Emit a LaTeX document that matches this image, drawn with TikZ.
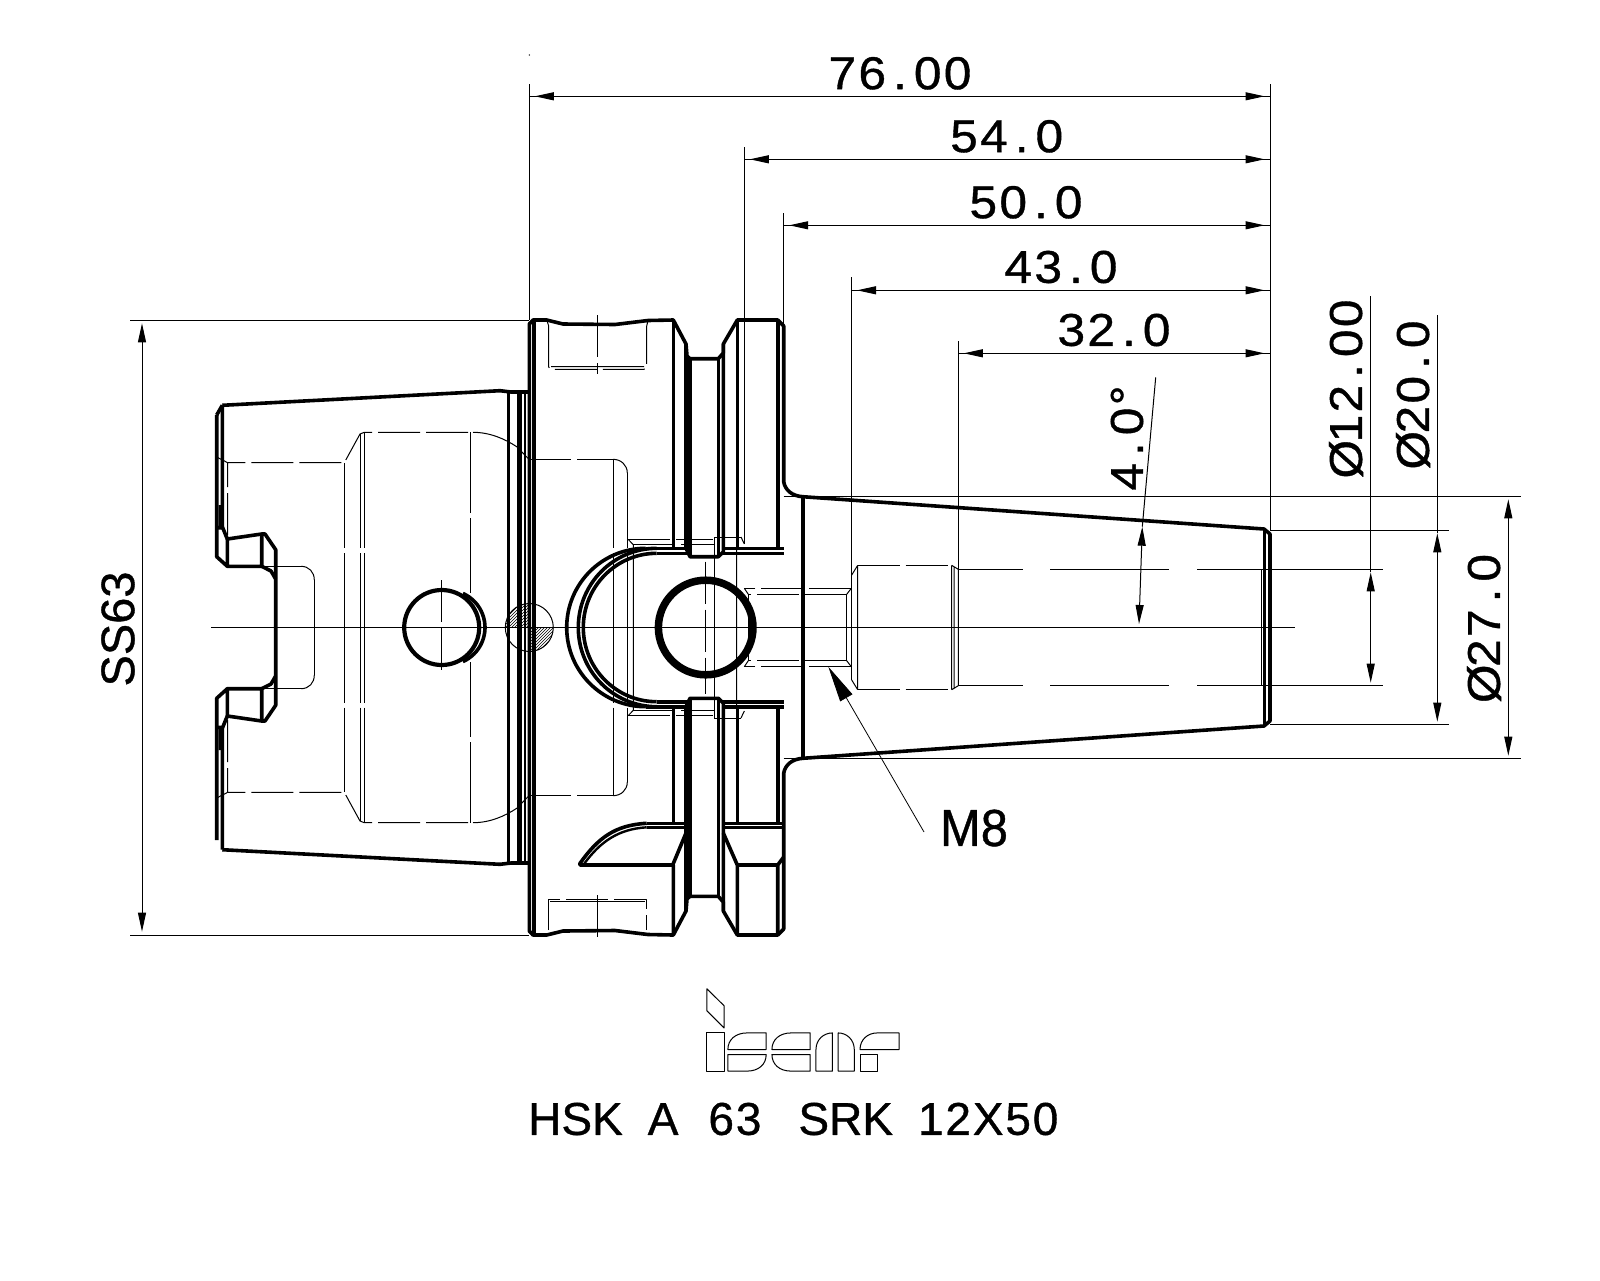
\documentclass[tikz,border=0pt]{standalone}
\usepackage{fontspec}
\usetikzlibrary{arrows.meta,patterns}
\newfontfamily\dimfont[LetterSpace=5,FakeStretch=1.08,FakeBold=0.8]{Liberation Sans}
\newfontfamily\midfont[LetterSpace=4,FakeBold=0.8]{Liberation Sans}
\newfontfamily\plainfont[FakeBold=0.8]{Liberation Sans}
\def\dt{\kern7pt.\kern7pt}
\def\dia{Ø\kern-2.5pt}
\tikzset{
	outl/.style={line width=3.6pt,line join=round},
	thinl/.style={line width=1pt},
	hidl/.style={line width=1pt,dash pattern=on 42pt off 6pt},
	hidv/.style={line width=1pt,dash pattern=on 75pt off 5pt on 300pt off 5pt},
	dimtxt/.style={font=\dimfont\fontsize{46}{46}\selectfont,inner sep=0pt},
	plaintxt/.style={font=\plainfont\fontsize{46}{46}\selectfont,inner sep=0pt},
	dimarr/.style={line width=1pt,{Triangle[length=19pt,width=8pt]}-{Triangle[length=19pt,width=8pt]}},
	halfbody/.pic={
		%%%%%%%%%Cone of the shank
		\draw[outl](222.3,405.3)--(500,390.7)--(511,392)--(529.3,392);
		\draw[outl](222.3,405.3)--(222.3,526.7)--(227.3,539)--(261.7,534)--(265,534)--(275.7,549.7)--(275.7,627.5);
		\draw[outl](216.7,415)--(216.7,556.7)--(227.3,566.3)--(261.7,566.3)--(261.7,534)(227.3,539)--(227.3,566.3);
		\draw[outl](216.7,527.7)--(222.3,527.7)(220.3,505)--(220.3,527.7)(261.7,566.3)--(271,571)--(275.7,579);
		\draw[outl](508.3,391)--(508.3,627.5);
		\draw[line width=4.8pt](519.3,392)--(519.3,627.5);
		\draw[line width=2.2pt](525,392)--(525,627.5);
		%%%%%%%%%Flange
		\draw[outl](529.3,627.5)--(529.3,324)--(533,320)--(546.7,320)--(563,324)--(615,324.5)--(648,320.5)--(673.3,320)--(686,344)--(687,356)--(690,358.7)--(718.3,358.7)--(723.3,353)--(723.3,344)--(737.3,320)--(777.7,320)--(783.7,326)--(783.7,481.7)..controls(785,490)and(792,496)..(802.7,496.7)--(1264,529)--(1270,534)--(1270,627.5);
		\draw[outl](534,320)--(534,627.5)(802.7,496.7)--(802.7,627.5)(1264.3,529)--(1264.3,627.5);
		\draw[outl](686,344)--(686,548.3)--(690,556.7)--(718.3,556.7)--(723.3,552)--(723.3,344);
		\draw[outl](690,358.7)--(690,556.7)(718.3,358.7)--(718.3,556.7);
		\draw[outl](646,548.3)--(686,548.3)(656.7,553.3)--(690,553.3)(723.3,548.3)--(783.7,548.3)(723.3,553.3)--(783.7,553.3);
		\draw[outl](566.7,627.5)arc(180:270:79 and 79.2);
		\draw[outl](578.3,627.5)arc(180:270:78.4 and 79.2);
		\draw[outl](583.3,627.5)arc(180:270:73.4 and 74.2);
		%%%%%%%%%Hidden bore
		\draw[hidl](227.7,535)--(227.7,462.7)--(344.3,462.7)--(360,434)--(364.3,432.3)--(473,432.3);
		\draw[thinl](473,432.3)..controls(490,432.3)and(505,439)..(516.7,446.7)--(529,459.3);
		\draw[hidl](529,459.3)--(613,459.3);
		\draw[thinl](613,459.3)..controls(621,459.3)and(627.3,465)..(627.3,473);
		\draw[hidv](627.3,627.5)--(627.3,473);
		\draw[thinl](216.7,457)--(227.7,462.7);
		\draw[hidv](344.3,627.5)--(344.3,462.7);
		\draw[hidv](360,627.5)--(360,434);
		\draw[hidv](364.3,627.5)--(364.3,432.3);
		\draw[hidv](470.3,593)--(470.3,432.3);
		\draw[hidv](613,627.5)--(613,459.3);
		\draw[hidl](262,566.3)--(301,566.3);
		\draw[thinl](301,566.3)..controls(309,566.3)and(314.3,572)..(314.3,580);
		\draw[hidv](314.3,627.5)--(314.3,580);
		%%%%%%%%%Hidden details round the big hole
		\draw[hidl](628.3,539.5)--(713,539.5)(633.3,544.7)--(714,544.7);
		\draw[thinl](628.3,539.5)--(633.3,544.7)(633.3,544.7)--(633.3,627.5);
		\draw[thinl](714.3,627.5)--(714.3,537);
		\draw[hidl](714.3,537)--(741,537);
		\draw[thinl](741,537)--(744.3,544)(736.7,548)--(736.7,627.5);
		\draw[hidl](851.3,588.3)--(744.3,588.3)(846.7,594.3)--(748.3,594.3);
		\draw[thinl](744.3,588.3)--(748.3,594.3)(851.3,588.3)--(846.7,594.3);
		\draw[thinl](748.3,594.3)--(748.3,627.5)(846.7,594.3)--(846.7,627.5)(851.7,575)--(851.7,627.5);
		%%%%%%%%%Counterbore and bore of the nose
		\draw[thinl](851.7,575)--(857.7,565.3)(857.7,565.3)--(857.7,627.5);
		\draw[hidl](857.7,565.3)--(951.7,565.3);
		\draw[thinl](951.7,565.3)--(958.3,569.3)(951.7,565.3)--(951.7,627.5)(954,566.6)--(954,627.5)(958.3,569.3)--(958.3,627.5);
		\draw[thinl](958.3,569.3)--(1023,569.3)(1050,569.3)--(1169,569.3)(1197,569.3)--(1382.7,569.3);
		\draw[thinl](1261.7,569.3)--(1261.7,627.5);
		%%%%%%%%%Witness lines
		\draw[thinl](783.7,496.3)--(1520.7,496.3)(1270,530.3)--(1449.3,530.3);
	},
}
\begin{document}
\begin{tikzpicture}[x=1pt,y=-1pt,line join=round,>=stealth]
	\useasboundingbox(0,0)rectangle(1600,1280);
	\fill[white](0,0)rectangle(1600,1280);
	%%%%%%%%%Hatched ball
	\fill[pattern=north east lines](529.3,627.5)--(505.3,627.5)arc(180:270:24)--cycle;
	\fill[pattern=north east lines](529.3,627.5)--(553.3,627.5)arc(0:90:24)--cycle;
	\draw[thinl](529.3,627.5)circle(24);
	%%%%%%%%%The two halves
	\path(0,0)pic{halfbody}(0,1255)pic[yscale=-1]{halfbody};
	\draw[outl](216.7,415)--(222.3,405.3);
	%%%%%%%%%Upper part only
	\draw[outl](673.3,320)--(673.3,548.3)(737.3,320)--(737.3,548.3)(777.7,320)--(777.7,548.3);
	\draw[hidl](548.7,326)--(548.7,367)--(551,369.3)--(644,369.3)--(646.7,367)--(646.7,326);
	\draw[thinl](551,366.7)--(644,366.7)(546.7,320)--(548.7,326)(646.7,326)--(648,320.5);
	\draw[hidl](597.3,315)--(597.3,374);
	%%%%%%%%%Lower part only
	\draw[outl](673.3,706.7)--(673.3,823.3)(737.3,706.7)--(737.3,823.3)(777.7,706.7)--(777.7,823.3);
	\draw[outl](646.7,823.3)--(686,823.3)(646.7,827.3)--(686,827.3)(723.3,823.3)--(783.7,823.3)(723.3,827.3)--(783.7,827.3);
	\draw[outl](646.7,823.3)..controls(615,825)and(598,838)..(580,863.3)--(580,865)--(672.7,865)--(686,833);
	\draw[line width=2.4pt](646.7,827.3)..controls(618,829)and(600,842)..(584,864);
	\draw[outl](673.3,865)--(673.3,935)(737.3,865)--(737.3,935)(777.7,865)--(777.7,935)(737.3,865)--(777.7,865)--(783.7,857)(723.3,833)--(737.3,865);
	\draw[hidl](548.7,930)--(548.7,899.5)--(646.7,899.5)--(646.7,930);
	\draw[thinl](550,901.7)--(645,901.7);
	\draw[hidl](597.3,895)--(597.3,939.3);
	%%%%%%%%%Holes
	\draw[line width=4.2pt](441.7,627.5)circle(37.5);
	\draw[outl](447.7,627.5)+(-66:37.3)arc(-66:66:37.3);
	\draw[line width=7.5pt](705.7,627.5)circle(47.3);
	\draw[hidl](441.7,580)--(441.7,675)(705.7,561.7)--(705.7,694);
	\draw[thinl](211,627.5)--(1295,627.5);
	%%%%%%%%%Witness lines and dimensions
	\draw[thinl](130,320)--(529.3,320)(130,935)--(529.3,935);
	\draw[thinl](529.3,84)--(529.3,320)(1270.3,84)--(1270.3,530);
	\draw[thinl](744.3,147.3)--(744.3,544)(783.7,213.3)--(783.7,326)(851.5,277.3)--(851.5,588)(958.3,341)--(958.3,569);
	\foreach \y/\xa in{96.3/529.3,159.3/744.3,225.3/783.7,290.3/851.5,353.3/958.3}{
		\draw[thinl](\xa,\y)--(1270.3,\y);
		\draw[dimarr](\xa+5.5,\y)--(1264.5,\y);
	}
	\draw[thinl](1370.7,296)--(1370.7,572)(1437.3,315)--(1437.3,533);
	\draw[dimarr](1370.7,572.3)--(1370.7,682.7);
	\draw[dimarr](1437.3,533.3)--(1437.3,721.7);
	\draw[dimarr](1508.3,499.3)--(1508.3,755.7);
	\draw[dimarr](142,323.3)--(142,931.7);
	\draw[thinl](1155.7,377.3)--(1142.3,526.7);
	\draw[dimarr](1142.3,526.7)--(1139,624);
	\draw[line width=0.8pt,-{Triangle[length=36pt,width=14pt]}](924,832)--(828.3,666.7);
	\fill(529.3,55)circle(0.7);
	%%%%%%%%%Texts
	\node[dimtxt](dimA)at(900,73.3){76\dt00};
	\node[dimtxt](dimB)at(1006.7,136.3){54\dt0};
	\node[dimtxt](dimC)at(1026,202.3){50\dt0};
	\node[dimtxt](dimD)at(1061,267){43\dt0};
	\node[dimtxt](dimE)at(1114,330){32\dt0};
	\node[dimtxt,rotate=90](dimF)at(1346,389){\dia12\dt00};
	\node[dimtxt,rotate=90](dimG)at(1413,395){\dia20\dt0};
	\node[dimtxt,rotate=90](dimH)at(1484,628.5){\dia27\dt0};
	\node[dimtxt,rotate=90](dimI)at(1127,438){4\dt0°};
	\node[plaintxt,rotate=90,font=\plainfont\fontsize{47}{47}\selectfont](dimJ)at(118,629){SS63};
	\node[plaintxt,xscale=0.94,font=\plainfont\fontsize{52}{52}\selectfont](dimK)at(974,828){M8};
	\node[plaintxt,anchor=west](title)at(528,1119){HSK\hspace{25pt}A\hspace{30pt}{\midfont\fontsize{46}{46}\selectfont 63}\hspace{37pt}SRK\hspace{25pt}{\midfont\fontsize{46}{46}\selectfont 12X50}};
	%%%%%%%%%Logo
	\begin{scope}[shift={(500,971.5)},x=0.383pt,y=-0.332pt,thinl]
		\draw(540,52)--(585,103)--(585,170)--(540,118)--cycle;
		\draw(540,185)--(585,185)--(585,300)--(540,300)--cycle;
		\draw(695,185)--(645,185)..controls(615,185)and(595,205)..(595,235)--(695,235)--cycle;
		\draw(595,250)--(695,250)..controls(695,280)and(675,300)..(645,300)--(595,300)--cycle;
		\draw(810,185)--(760,185)..controls(730,185)and(710,205)..(710,235)--(810,235)--cycle;
		\draw(710,250)--(810,250)--(810,300)--(760,300)..controls(730,300)and(710,280)..(710,250)--cycle;
		\draw(825,300)--(825,235)..controls(825,205)and(845,185)..(868,185)--(868,300)--cycle;
		\draw(883,300)--(883,185)..controls(905,185)and(925,205)..(925,235)--(925,300)--cycle;
		\draw(940,235)..controls(940,205)and(960,185)..(985,185)--(1042,185)--(1042,235)--cycle;
		\draw(940,250)--(985,250)--(985,300)--(940,300)--cycle;
	\end{scope}
\end{tikzpicture}
\end{document}
